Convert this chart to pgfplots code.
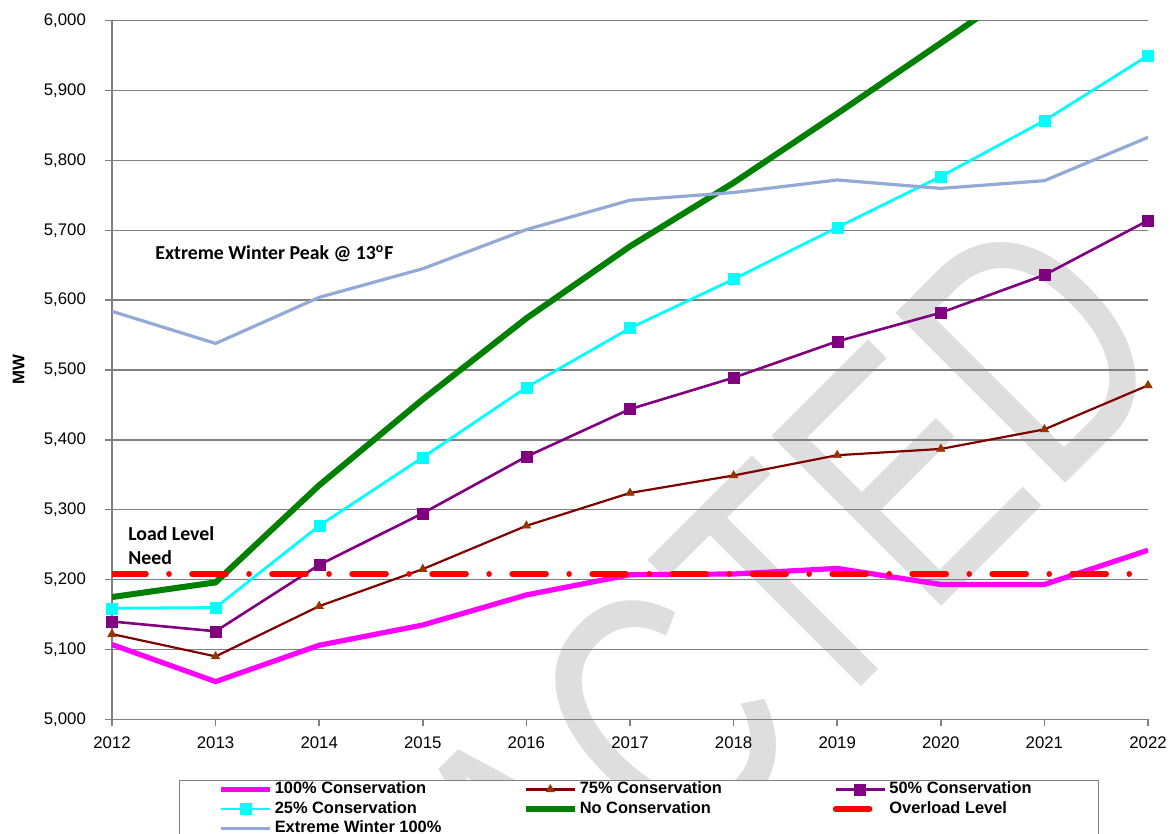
\documentclass[border=0pt]{standalone}
\usepackage{fontspec}
\setmainfont{Liberation Sans}
\newfontfamily\carlito{Carlito}
\usepackage{graphicx}
\usepackage{pgfplots}
\pgfplotsset{compat=1.18}

\definecolor{gridgray}{RGB}{128,128,128}
\definecolor{cmag}{RGB}{255,0,255}
\definecolor{cdred}{RGB}{128,0,0}
\definecolor{ctri}{RGB}{153,51,0}
\definecolor{cpurp}{RGB}{128,0,128}
\definecolor{ccyan}{RGB}{0,255,255}
\definecolor{cgreen}{RGB}{0,128,0}
\definecolor{cred}{RGB}{255,0,0}
\definecolor{cblue}{RGB}{147,169,214}

\begin{document}
\begin{tikzpicture}
% watermark
\node[rotate=45, anchor=base east, inner sep=0pt, text=black!13,
      font=\fontsize{174.6}{175}\selectfont] at (536.25pt,177.65pt)
      {\scalebox{0.75}[1]{REDACTED}};
\begin{axis}[
  name=ax,
  at={(0pt,0pt)}, anchor=south west,
  width=518pt, height=349.3pt, scale only axis,
  xmin=2012, xmax=2022, ymin=5000, ymax=6000,
  xtick={2012,2013,...,2022}, ytick={5000,5100,...,6000},
  axis x line=bottom, axis y line=left,
  axis line style={gridgray, line width=0.75pt, -},
  ymajorgrids, grid style={gridgray, line width=0.75pt},
  tick align=outside, major tick length=3.5pt,
  tick style={gridgray, line width=0.75pt},
  tick label style={font=\fontsize{8.4}{10}\selectfont},
  /pgf/number format/assume math mode=true,
  xticklabel style={/pgf/number format/1000 sep={}, yshift=-1.5pt},
  yticklabel style={/pgf/number format/1000 sep={,}, xshift=-6pt},
  legend columns=3,
  legend cell align=left,
  legend style={at={(0.06467,-0.0873)}, anchor=north west, draw=gridgray,
    line width=0.6pt, fill=white, inner xsep=19.5pt, inner ysep=0.5pt,
    row sep=2.15pt,
    nodes={inner xsep=1pt, inner ysep=0pt, text height=6pt, text depth=1.6pt},
    font=\bfseries\fontsize{8.2}{9}\selectfont},
  legend image code/.code={\draw[mark repeat=2, mark phase=2, #1]
     plot coordinates {(0pt,0pt) (12.25pt,0pt) (24.5pt,0pt)};},
]
\addplot[cmag, line width=2.6pt, no markers] coordinates {
 (2012,5107)(2013,5054)(2014,5106)(2015,5135)(2016,5178)(2017,5207)
 (2018,5208)(2019,5216)(2020,5193)(2021,5193)(2022,5242)};
\addlegendentry{\makebox[123pt][l]{100\% Conservation}}

\addplot[cdred, line width=1.1pt, mark=triangle*, mark size=2.4pt,
  mark options={fill=ctri, draw=ctri, line width=0.3pt}] coordinates {
 (2012,5122)(2013,5090)(2014,5162)(2015,5215)(2016,5277)(2017,5324)
 (2018,5349)(2019,5378)(2020,5387)(2021,5415)(2022,5478)};
\addlegendentry{\makebox[125.5pt][l]{75\% Conservation}}

\addplot[cpurp, line width=1.3pt, mark=square*, mark size=2.75pt,
  mark options={fill=cpurp, draw=cpurp, line width=0.2pt}] coordinates {
 (2012,5140)(2013,5126)(2014,5221)(2015,5295)(2016,5376)(2017,5444)
 (2018,5489)(2019,5541)(2020,5582)(2021,5636)(2022,5714)};
\addlegendentry{\makebox[84pt][l]{50\% Conservation}}

\addplot[ccyan, line width=1.4pt, mark=square*, mark size=2.75pt,
  mark options={fill=ccyan, draw=ccyan, line width=0.2pt}] coordinates {
 (2012,5159)(2013,5160)(2014,5277)(2015,5375)(2016,5475)(2017,5560)
 (2018,5630)(2019,5704)(2020,5777)(2021,5857)(2022,5950)};
\addlegendentry{\makebox[123pt][l]{25\% Conservation}}

\addplot[cgreen, line width=3pt, no markers] coordinates {
 (2012,5175)(2013,5196)(2014,5335)(2015,5458)(2016,5574)(2017,5677)
 (2018,5768)(2019,5867)(2020,5968)(2021,6070)(2022,6170)};
\addlegendentry{\makebox[125.5pt][l]{No Conservation}}

\addplot[cred, line width=2.8pt, line cap=round,
  dash pattern=on 17pt off 11.5pt on 0.01pt off 11.5pt] coordinates {
 (2012,5208)(2022,5208)};
\addlegendentry{\makebox[84pt][l]{Overload Level}}

\addplot[cblue, line width=1.6pt, no markers] coordinates {
 (2012,5584)(2013,5538)(2014,5604)(2015,5645)(2016,5701)(2017,5743)
 (2018,5754)(2019,5772)(2020,5760)(2021,5771)(2022,5833)};
\addlegendentry{\makebox[123pt][l]{Extreme Winter 100\%}}

\node[anchor=west, inner sep=0pt, font=\carlito\bfseries\fontsize{9.9}{12}\selectfont]
  at (axis cs:2012.415,5666.7) {Extreme Winter Peak @ 13\textsuperscript{o}F};
\node[anchor=west, align=left, inner sep=0pt, font=\carlito\bfseries\fontsize{9.9}{12}\selectfont]
  at (axis cs:2012.154,5249) {Load Level\\Need};
\end{axis}
\node[rotate=90, font=\bfseries\fontsize{8.4}{10}\selectfont]
  at ([shift={(-46.75pt,174.65pt)}]ax.south west) {MW};
\pgfresetboundingbox
\path[use as bounding box] (-56pt,-57.35pt) rectangle (529.5pt,359.65pt);
\end{tikzpicture}
\end{document}
